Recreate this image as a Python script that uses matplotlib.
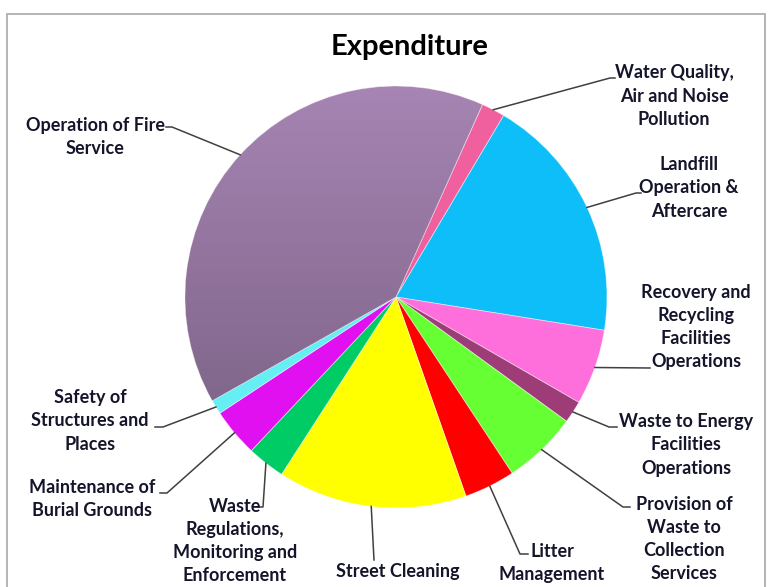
import matplotlib.pyplot as plt
import numpy as np
from matplotlib.patches import Rectangle

# Expenditure shares (%), clockwise from the top right
labels = ["Water Quality,\nAir and Noise\nPollution",
          "Landfill\nOperation &\nAftercare",
          "Recovery and\nRecycling\nFacilities\nOperations",
          "Waste to Energy\nFacilities\nOperations",
          "Provision of\nWaste to\nCollection\nServices",
          "Litter\nManagement",
          "Street Cleaning",
          "Waste\nRegulations,\nMonitoring and\nEnforcement",
          "Maintenance of\nBurial Grounds",
          "Safety of\nStructures and\nPlaces",
          "Operation of Fire\nService"]
values = [1.8, 19.0, 5.8, 1.7, 5.7, 3.9, 14.5, 2.9, 3.7, 1.1, 39.9]
colors = ["#F0609F", "#0DBEF8", "#FF6FDC", "#9E3C78", "#66FF33", "#FF0000",
          "#FFFF00", "#00CC66", "#E010F0", "#66EEF5", "#A684B3"]

# label text centres and leader elbows, in pixels from the top-left
label_pos = [(674, 96), (689, 188), (696, 327), (686, 445), (684, 539), (552, 563),
             (398, 572), (235, 541), (92, 499), (90, 421), (95, 137)]
elbows = [[(610, 78), (615, 78)], [(636, 193), (641, 193)], [(650, 368)],
          [(609, 427), (617, 427)], [(623, 507), (630, 507)], [(520, 554), (528, 554)],
          [(374, 560)], [(263, 507), (258, 507)], [(167, 493), (160, 493)],
          [(163, 427), (155, 427)], [(172, 127), (166, 127)]]

W, H = 776, 587
cx, cy, r = 396, H - 297, 211

fig = plt.figure(figsize=(W / 100, H / 100), dpi=100)
ax = fig.add_axes([0, 0, 1, 1])

wedges, _ = ax.pie(values, colors=colors, radius=r, center=(cx, cy),
                   startangle=65.8, counterclock=False,
                   wedgeprops=dict(linewidth=0.6, edgecolor="#ffffff80"))

# darken the fire service slice towards the bottom
shade = np.zeros((256, 1, 4))
shade[:, 0, 3] = np.linspace(0, 0.3, 256)
img = ax.imshow(shade, extent=(cx - r, cx + r, cy - r, cy + r), origin="upper",
                aspect="auto", zorder=wedges[-1].get_zorder() + 0.1)
img.set_clip_path(wedges[-1])

for w, lab, (tx, ty), pts in zip(wedges, labels, label_pos, elbows):
    mid = np.deg2rad((w.theta1 + w.theta2) / 2)
    xs = [cx + r * np.cos(mid)] + [p[0] for p in pts]
    ys = [cy + r * np.sin(mid)] + [H - p[1] for p in pts]
    ax.plot(xs, ys, color="#404040", linewidth=1.1, zorder=5)
    ax.text(tx, H - ty, lab, ha="center", va="center", fontsize=13,
            fontweight="bold", family="Lato", color="#14142a",
            linespacing=1.43, zorder=6)

ax.text(410, H - 47, "Expenditure", ha="center", va="center", fontsize=21,
        fontweight="bold", family="Lato", color="black")

ax.add_patch(Rectangle((7, -10), 758, H - 14 + 10, fill=False,
                       edgecolor="#A8A8A8", linewidth=1.2, zorder=0))

ax.set_xlim(0, W)
ax.set_ylim(0, H)
ax.set_aspect("equal")
ax.axis("off")

fig.savefig("out.png", dpi=100)
